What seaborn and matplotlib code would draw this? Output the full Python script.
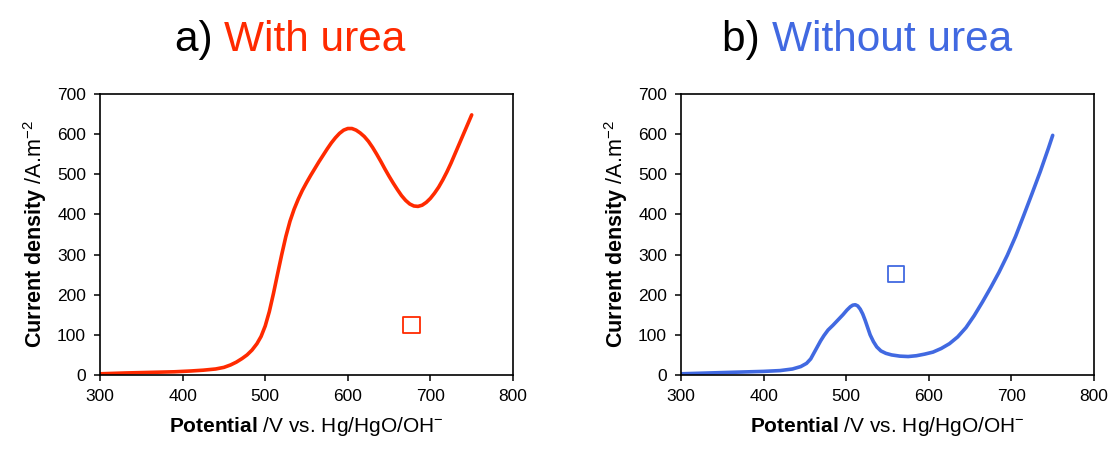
import matplotlib
matplotlib.use("Agg")
import matplotlib.pyplot as plt
import seaborn as sns
import pandas as pd

# ---- data ----
pot_a = [300, 330, 360, 390, 410, 425, 440, 450, 458, 465, 472, 478, 484, 490, 495,
         500, 505, 510, 515, 520, 525, 530, 535, 540, 545, 550, 555, 560, 565, 570,
         575, 580, 585, 590, 595, 600, 605, 610, 615, 620, 625, 630, 635, 640, 645,
         650, 655, 660, 665, 670, 675, 680, 685, 690, 695, 700, 705, 710, 715, 720,
         725, 730, 735, 740, 745, 750]
cur_a = [3, 5, 6.5, 8, 10, 12, 15, 19, 25, 32, 41, 50, 62, 78, 96,
         122, 158, 203, 252, 300, 345, 383, 413, 438, 460, 479, 497, 514, 531, 547,
         563, 578, 591, 602, 610, 614, 614, 610, 603, 594, 582, 567, 550, 532, 513,
         495, 478, 462, 447, 435, 426, 421, 420, 423, 430, 440, 453, 468, 486, 506,
         528, 552, 576, 600, 624, 648]

pot_b = [300, 350, 400, 420, 435, 445, 452, 457, 461, 465, 469, 473, 478, 484, 490,
         496, 501, 505, 508, 511, 514, 517, 520, 523, 526, 529, 533, 537, 542, 548,
         555, 565, 575, 585, 595, 605, 615, 625, 635, 645, 655, 665, 675, 685, 695,
         705, 715, 725, 735, 745, 750]
cur_b = [3, 6, 9, 11, 15, 21, 29, 40, 55, 70, 85, 98, 112, 124, 137,
         150, 162, 170, 174, 175, 172, 164, 152, 136, 118, 100, 83, 70, 60, 54,
         50, 47, 46, 48, 52, 57, 66, 78, 95, 118, 148, 182, 218, 256, 298,
         345, 398, 452, 507, 566, 597]

marker_a = ([677], [125])
marker_b = ([560], [252])

titles_prefix = ["a) ", "b) "]
titles_main = ["With urea", "Without urea"]
xticks = [300, 400, 500, 600, 700, 800]
yticks = [0, 100, 200, 300, 400, 500, 600, 700]

RED = "#FF2A00"
BLUE = "#4169E1"

sns.set_theme(style="ticks")
plt.rcParams["font.family"] = ["Liberation Sans", "DejaVu Sans"]
plt.rcParams["mathtext.fontset"] = "custom"
plt.rcParams["mathtext.rm"] = "Liberation Sans"
plt.rcParams["mathtext.bf"] = "Liberation Sans:bold"
plt.rcParams["mathtext.it"] = "Liberation Sans:italic"
plt.rcParams["text.color"] = "black"
plt.rcParams["axes.labelcolor"] = "black"
plt.rcParams["xtick.color"] = "black"
plt.rcParams["ytick.color"] = "black"

W, H = 1115, 458
fig = plt.figure(figsize=(W / 100, H / 100), dpi=100)

def px_axes(l, r, t, b):
    return fig.add_axes([l / W, 1 - b / H, (r - l) / W, (b - t) / H])

ax_a = px_axes(100, 513, 94, 375)
ax_b = px_axes(681, 1094, 94, 375)

panels = [
    (ax_a, pot_a, cur_a, marker_a, RED),
    (ax_b, pot_b, cur_b, marker_b, BLUE),
]

for ax, xs, ys, mk, col in panels:
    df = pd.DataFrame({"Potential": xs, "Current": ys})
    sns.lineplot(data=df, x="Potential", y="Current", ax=ax, color=col,
                 linewidth=2.6, sort=False)
    mdf = pd.DataFrame({"Potential": mk[0], "Current": mk[1]})
    sns.scatterplot(data=mdf, x="Potential", y="Current", ax=ax, marker="s",
                    s=140, facecolor="none", edgecolor=col, linewidth=1.3)
    ax.set_xlim(300, 800)
    ax.set_ylim(0, 700)
    ax.set_xticks(xticks)
    ax.set_yticks(yticks)
    ax.tick_params(direction="out", length=4, width=1.1, labelsize=12.5,
                   colors="black", labelcolor="black", pad=6)
    for s in ax.spines.values():
        s.set_visible(True)
        s.set_color("black")
        s.set_linewidth(1.2)
    ax.set_xlabel(r"$\mathbf{Potential}$ /V vs. Hg/HgO/OH$^{-}$", fontsize=15,
                  labelpad=8, color="black")
    ax.set_ylabel(r"$\mathbf{Current\ density}$ /A.m$^{-2}$", fontsize=15.5,
                  labelpad=6, color="black")

# titles: black prefix + coloured main text
title_pos = [175, 722]
for xpos, pre, main, col in zip(title_pos, titles_prefix, titles_main, [RED, BLUE]):
    t1 = fig.text(xpos / W, 1 - 51 / H, pre, fontsize=30.5, color="black",
                  ha="left", va="baseline")
    fig.canvas.draw()
    plt.annotate(main, xy=(1, 0), xycoords=t1, fontsize=30.5, color=col,
                 ha="left", va="bottom", annotation_clip=False)

fig.savefig("out.png", dpi=100)
